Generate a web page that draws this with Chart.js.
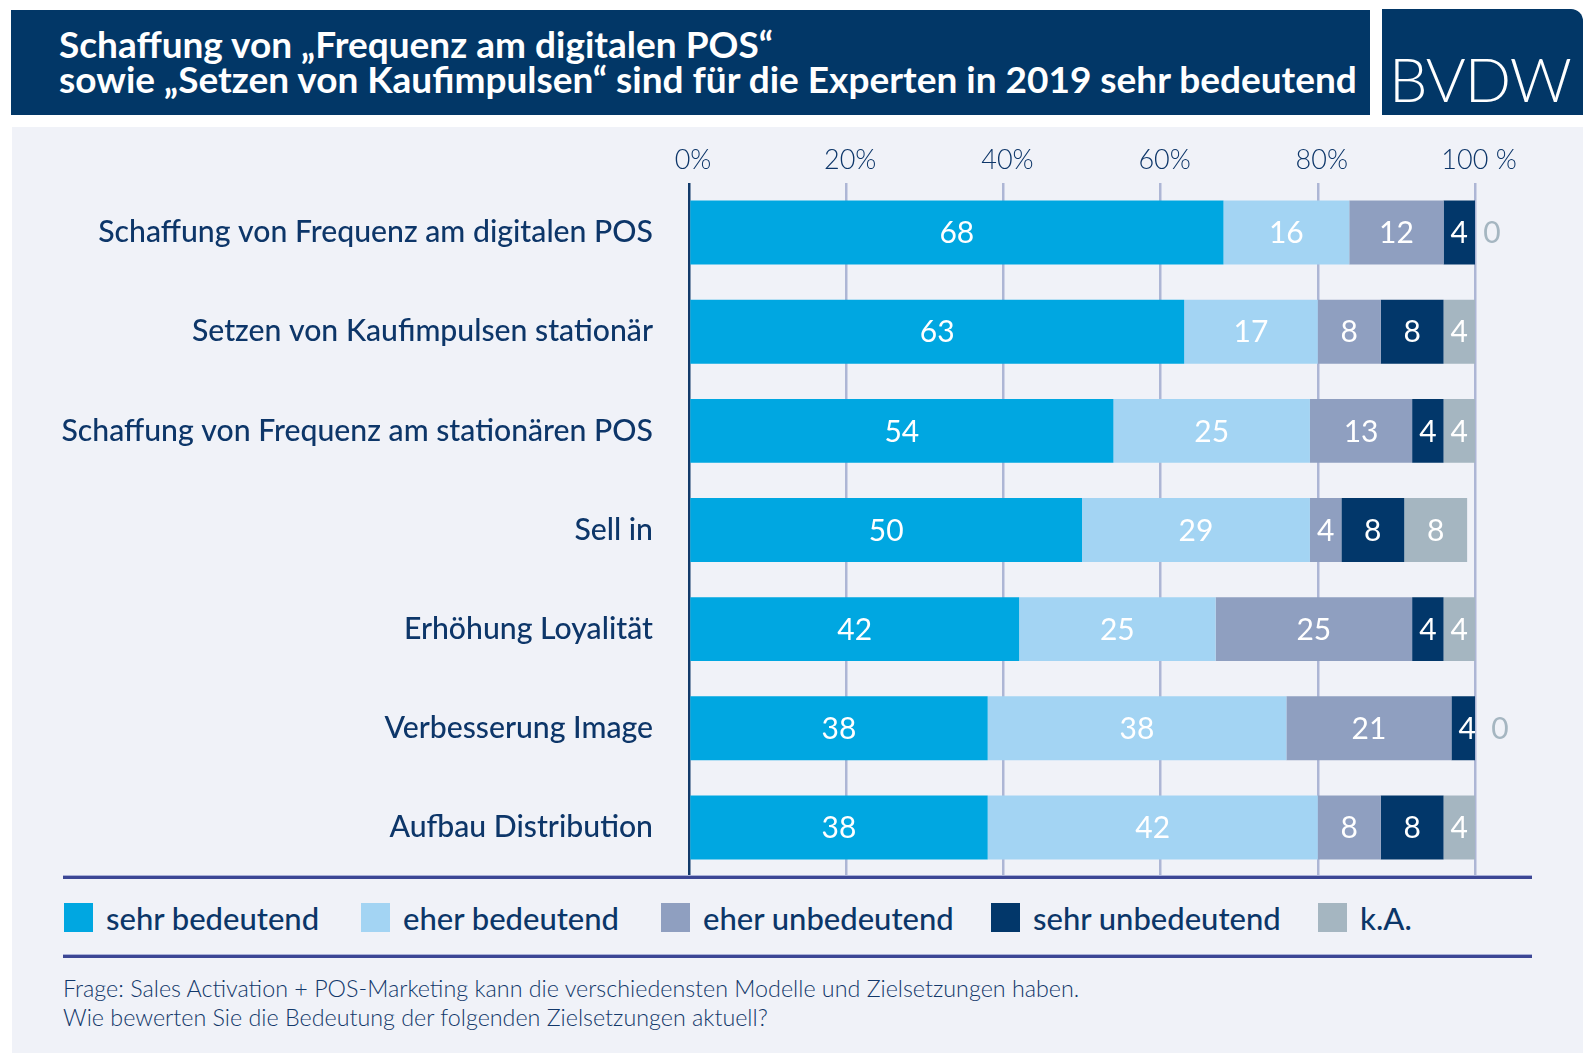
<!DOCTYPE html>
<html lang="de">
<head>
<meta charset="utf-8">
<title>BVDW – Zielsetzungen Sales Activation</title>
<script src="https://cdn.jsdelivr.net/npm/chart.js@4.4.1/dist/chart.umd.min.js"></script>
<style>
  html, body { margin: 0; padding: 0; background: #fff; }
  body { width: 1594px; height: 1063px; position: relative; overflow: hidden;
         font-family: Lato, "Noto Sans", sans-serif; color: #0d3669; }
  #banner { position: absolute; left: 11px; top: 10px; width: 1359px; height: 105px; background: #023767; }
  #title { position: absolute; left: 48px; top: 16px; margin: 0; color: #fff; white-space: nowrap;
           font-size: 37px; font-weight: 700; line-height: 35px; }
  #logo { position: absolute; left: 1382px; top: 9px; width: 201px; height: 106px; background: #023767;
          border-top-right-radius: 12px; }
  #logo span { position: absolute; left: 7px; top: 37px; color: #fff; font-size: 61px; font-weight: 300;
               line-height: 66px; letter-spacing: -1px; }
  #panel { position: absolute; left: 12px; top: 127px; width: 1571px; height: 926px; background: #f0f2f8; }
  #chartBox { position: absolute; left: 12px; top: 127px; width: 1571px; height: 760px; }
  .rule { position: absolute; left: 63px; width: 1469px; height: 3px; background: #3c4795;
          border-top: 1px solid #a9b0d8; }
  #legend { position: absolute; left: 0; top: 902px; height: 31px; width: 1594px; }
  .item { position: absolute; top: 0; height: 31px; display: flex; align-items: center;
          font-size: 31px; font-weight: 500; color: #0b3668; white-space: nowrap; }
  .item i { display: inline-block; width: 29px; height: 29px; margin-right: 13px; }
  #note { position: absolute; left: 63px; top: 974px; margin: 0; font-size: 23.3px; font-weight: 300;
          line-height: 29px; color: #12386a; white-space: nowrap; }
</style>
</head>
<body>

<div id="banner">
  <h1 id="title">Schaffung von „Frequenz am digitalen POS“<br>sowie „Setzen von Kaufimpulsen“ sind für die Experten in 2019 sehr bedeutend</h1>
</div>
<div id="logo"><span>BVDW</span></div>

<div id="panel"></div>
<div id="chartBox"><canvas id="chart"></canvas></div>

<div class="rule" style="top:875px"></div>
<div id="legend"></div>
<div class="rule" style="top:954px"></div>

<p id="note">Frage: Sales Activation + POS-Marketing kann die verschiedensten Modelle und Zielsetzungen haben.<br>Wie bewerten Sie die Bedeutung der folgenden Zielsetzungen aktuell?</p>

<script>
// ================= DATA =================
const categories = [
  "Schaffung von Frequenz am digitalen POS",
  "Setzen von Kaufimpulsen stationär",
  "Schaffung von Frequenz am stationären POS",
  "Sell in",
  "Erhöhung Loyalität",
  "Verbesserung Image",
  "Aufbau Distribution"
];

const seriesNames = ["sehr bedeutend", "eher bedeutend", "eher unbedeutend", "sehr unbedeutend", "k.A."];

const sehrBedeutend    = [68, 63, 54, 50, 42, 38, 38];
const eherBedeutend    = [16, 17, 25, 29, 25, 38, 42];
const eherUnbedeutend  = [12,  8, 13,  4, 25, 21,  8];
const sehrUnbedeutend  = [ 4,  8,  4,  8,  4,  4,  8];
const keineAngabe      = [ 0,  4,  4,  8,  4,  0,  4];

const xTicks = [0, 20, 40, 60, 80, 100];

// ================= STYLE =================
const colors = ["#00a7e1", "#a3d4f3", "#8f9fc0", "#02376a", "#a5b6c1"];
const navy = "#0d3669";
const gridColor = "#adb6d5";
const FONT = "Lato, 'Noto Sans', sans-serif";

const seriesValues = [sehrBedeutend, eherBedeutend, eherUnbedeutend, sehrUnbedeutend, keineAngabe];


// ================= LEGEND (HTML) =================
const legendLeft = [64, 361, 661, 991, 1318];
const legend = document.getElementById("legend");
seriesNames.forEach((name, i) => {
  const el = document.createElement("div");
  el.className = "item";
  el.style.left = legendLeft[i] + "px";
  el.innerHTML = `<i style="background:${colors[i]}"></i>${name}`;
  legend.appendChild(el);
});


// ================= VALUE LABELS =================
const valueLabels = {
  id: "valueLabels",
  afterDatasetsDraw(chart) {
    const { ctx } = chart;
    ctx.save();
    ctx.font = `400 30px ${FONT}`;
    ctx.textBaseline = "middle";
    ctx.textAlign = "center";
    chart.data.datasets.forEach((ds, di) => {
      const meta = chart.getDatasetMeta(di);
      meta.data.forEach((bar, i) => {
        const v = ds.data[i];
        if (v > 0) {
          ctx.fillStyle = "#ffffff";
          ctx.fillText(String(v), (bar.x + bar.base) / 2, bar.y + 1);
        } else {
          // zero share: grey label just right of the bar end
          ctx.fillStyle = colors[4];
          ctx.fillText("0", bar.x + 17, bar.y + 1);
        }
      });
    });
    ctx.restore();
  }
};


// ================= CHART =================
new Chart(document.getElementById("chart"), {
  type: "bar",
  data: {
    labels: categories,
    datasets: seriesNames.map((name, i) => ({
      label: name,
      data: seriesValues[i],
      backgroundColor: colors[i],
      borderWidth: 0,
      barPercentage: 0.645,
      categoryPercentage: 1
    }))
  },
  options: {
    indexAxis: "y",
    responsive: true,
    maintainAspectRatio: false,
    animation: false,
    layout: { padding: { top: 0, right: 108, bottom: 10, left: 0 } },
    plugins: {
      legend: { display: false },
      tooltip: { enabled: false }
    },
    scales: {
      x: {
        position: "top",
        stacked: true,
        min: 0,
        max: 100,
        afterBuildTicks: scale => { scale.ticks = xTicks.map(v => ({ value: v })); },
        afterFit: scale => { scale.height = 56; },
        grid: {
          drawTicks: false,
          lineWidth: 2.5,
          color: c => (c.tick && c.tick.value === 0 ? "#123a6a" : gridColor)
        },
        border: { display: false },
        ticks: {
          padding: 7,
          labelOffset: 4,
          color: navy,
          font: { family: FONT, size: 27, weight: "300" },
          callback: v => (v === 100 ? "100 %" : v + "%")
        }
      },
      y: {
        stacked: true,
        afterFit: scale => {
          scale.width = 677;
          // no extra space above / below for the large labels
          scale.paddingTop = 0;
          scale.paddingBottom = 0;
        },
        grid: { display: false, drawTicks: false },
        border: { display: false },
        ticks: {
          padding: 36,
          color: navy,
          font: { family: FONT, size: 30.2, weight: "500" }
        }
      }
    }
  },
  plugins: [valueLabels]
});
</script>
</body>
</html>
